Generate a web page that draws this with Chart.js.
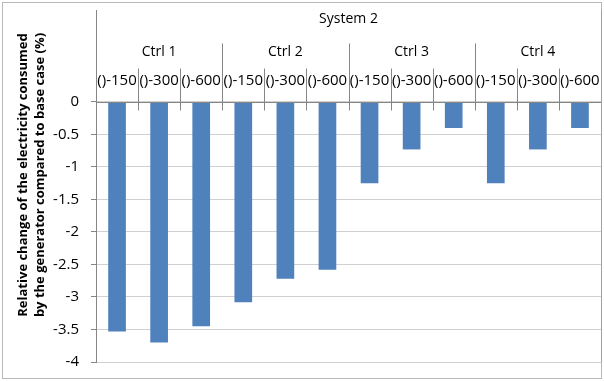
<!DOCTYPE html>
<html>
<head>
<meta charset="utf-8">
<script src="https://cdn.jsdelivr.net/npm/chart.js@4.4.0/dist/chart.umd.min.js"></script>
<style>
  html, body { margin: 0; padding: 0; background: #fff; }
  #wrap { width: 604px; height: 381px; position: relative; }
</style>
</head>
<body>
<div id="wrap"><canvas id="myChart" width="604" height="381"></canvas></div>
<script>
const systemLabel = 'System 2';
const ctrlLabels = ['Ctrl 1', 'Ctrl 2', 'Ctrl 3', 'Ctrl 4'];
const subLabels = ['()-150', '()-300', '()-600'];
const values = [-3.53, -3.70, -3.45, -3.08, -2.72, -2.58, -1.25, -0.73, -0.40, -1.25, -0.73, -0.40];
const yTicks = [0, -0.5, -1, -1.5, -2, -2.5, -3, -3.5, -4];
const yTitle = ['Relative change of the electricity consumed', 'by the generator compared to base case (%)'];

const labels = [];
ctrlLabels.forEach(c => subLabels.forEach(s => labels.push(c + ' ' + s)));

const font = '"Open Sans", "Liberation Sans", sans-serif';

// multi-level category header sits in the space above the zero line, like Excel draws it
const headerPlugin = {
    id: 'header',
    beforeDraw(chart) {
        const ctx = chart.ctx;
        ctx.save();
        ctx.strokeStyle = '#b8b8b8';
        ctx.lineWidth = 1;
        ctx.strokeRect(2.5, 2.5, chart.width - 5, chart.height - 5);
        ctx.restore();
    },
    afterDraw(chart) {
        const ctx = chart.ctx;
        const x = chart.scales.x;
        const y = chart.scales.y;
        const area = chart.chartArea;
        const zeroY = Math.round(y.getPixelForValue(0)) + 0.5;
        const n = labels.length;
        const step = (area.right - area.left) / n;
        const edge = i => Math.round(area.left + i * step) + 0.5;

        ctx.save();
        ctx.strokeStyle = '#868686';
        ctx.lineWidth = 1;
        ctx.beginPath();
        ctx.moveTo(area.left, zeroY);
        ctx.lineTo(area.right, zeroY);
        ctx.stroke();

        ctx.beginPath();
        for (let i = 1; i < n; i++) {
            const px = edge(i);
            const top = (i % 3 === 0) ? zeroY - 59 : zeroY - 34;
            ctx.moveTo(px, top);
            ctx.lineTo(px, zeroY + 8);
        }
        ctx.stroke();

        // right border of the plot area
        ctx.strokeStyle = '#a0a0a0';
        ctx.beginPath();
        ctx.moveTo(edge(n), area.top);
        ctx.lineTo(edge(n), area.bottom);
        ctx.stroke();

        ctx.fillStyle = '#000';
        ctx.textAlign = 'center';
        ctx.textBaseline = 'middle';
        ctx.font = '15px ' + font;
        labels.forEach((l, i) => {
            ctx.fillText(subLabels[i % 3], x.getPixelForValue(i), zeroY - 22);
        });
        ctx.font = '14px ' + font;
        ctrlLabels.forEach((c, j) => {
            const cx = (x.getPixelForValue(j * 3) + x.getPixelForValue(j * 3 + 2)) / 2;
            ctx.fillText(c, cx, zeroY - 50);
        });
        ctx.fillText(systemLabel, (area.left + area.right) / 2, zeroY - 83);

        // y title, two rotated lines
        ctx.font = 'bold 13px ' + font;
        ctx.translate(0, (area.top + area.bottom) / 2 - 11);
        ctx.rotate(-Math.PI / 2);
        ctx.fillText(yTitle[0], 0, 23);
        ctx.fillText(yTitle[1], 0, 40);
        ctx.restore();
    }
};

new Chart(document.getElementById('myChart'), {
    type: 'bar',
    data: {
        labels: labels,
        datasets: [{
            data: values,
            backgroundColor: '#4f81bd',
            borderWidth: 0,
            barPercentage: 0.42,
            categoryPercentage: 1
        }]
    },
    options: {
        responsive: false,
        animation: false,
        layout: { padding: { top: 10, right: 3, bottom: 19, left: 0 } },
        plugins: { legend: { display: false }, tooltip: { enabled: false } },
        scales: {
            x: { display: false },
            y: {
                min: -4,
                max: 1.415,
                afterBuildTicks: axis => { axis.ticks = yTicks.map(v => ({ value: v })); },
                afterFit: axis => {
                    axis.width = 96;
                    axis.paddingTop = 0;
                    axis.paddingBottom = 0;
                },
                ticks: {
                    color: '#000',
                    font: { family: font, size: 15 },
                    padding: 12,
                    callback: v => String(v)
                },
                grid: { color: '#d0d0d0', drawTicks: true, tickLength: 5, tickColor: '#868686' },
                border: { color: '#868686' }
            }
        }
    },
    plugins: [headerPlugin]
});
</script>
</body>
</html>
